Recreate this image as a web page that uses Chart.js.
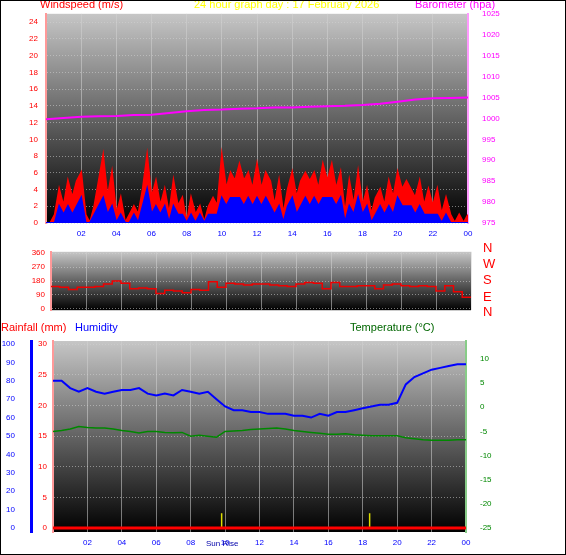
<!DOCTYPE html>
<html><head><meta charset="utf-8">
<script src="https://cdn.jsdelivr.net/npm/chart.js@4"></script>
<style>
body{margin:0;background:#fff;font-family:"Liberation Sans",Arial,sans-serif}
#page{position:relative;width:564px;height:553px;border:1px solid #000;overflow:hidden;background:#fff}
canvas{position:absolute;left:0}
.t{position:absolute;font-size:11px;white-space:nowrap;line-height:11px}
.d{position:absolute;left:482px;font-size:13px;color:#f00;line-height:13px}
</style></head><body>
<div id="page">
<canvas id="top" style="top:0" width="566" height="250"></canvas>
<canvas id="mid" style="top:240px" width="566" height="80"></canvas>
<canvas id="bot" style="top:320px" width="566" height="234"></canvas>
<div class="t" style="left:39px;top:-2px;color:#f00">Windspeed (m/s)</div>
<div class="t" style="left:193px;top:-2px;color:#ff0">24 hour graph day : 17 February 2026</div>
<div class="t" style="left:414px;top:-2px;color:#f0f">Barometer (hpa)</div>
<div class="t" style="left:0;top:321px;color:#f00">Rainfall (mm)</div>
<div class="t" style="left:74px;top:321px;color:#00f">Humidity</div>
<div class="t" style="left:349px;top:321px;color:#060">Temperature (°C)</div>
<div class="d" style="top:240px">N</div>
<div class="d" style="top:256px">W</div>
<div class="d" style="top:272px">S</div>
<div class="d" style="top:289px">E</div>
<div class="d" style="top:304px">N</div>
<div class="t" style="left:205px;top:537px;color:#00a;font-size:8px">Sun Rise</div>
</div>
<script>
/* ========= DATA ========= */
const hourLabels = ["02","04","06","08","10","12","14","16","18","20","22","00"];
const hourTicks  = [2,4,6,8,10,12,14,16,18,20,22,24];
// every 15 minutes, 0h..24h
const windGust = [0,0,1,4, 2,5,3,5, 6,1,0,2, 5,8,3,6, 1,3,0,1, 2,1,4,8, 3,5,2,4, 1,5,2,3,
  0,3,1,2, 0,2,3,2, 8,4,6,5, 7,5,6,4, 7,4,6,5, 2,5,1,4, 6,3,5,6, 5,6,4,7, 5,7,4,6,
  1,5,2,6, 2,4,1,3, 4,2,5,3, 6,4,5,4, 3,5,2,4, 2,4,1,3, 1,0,1,0, 1];
const windAvg = [0,0,0,2, 1,2,1,2, 3,0,0,1, 2,3,1,2, 0,1,0,0, 1,0,2,4, 1,2,1,2, 0,2,1,1,
  0,1,0,1, 0,1,1,1, 3,2,3,3, 3,2,3,2, 3,2,3,2, 1,2,0,2, 3,1,2,3, 2,3,2,3, 3,3,2,3,
  0,2,1,3, 1,2,0,1, 2,1,2,1, 3,2,2,2, 1,2,1,1, 1,1,0,1, 0,0,0,0, 0];
const windTicks = [0,2,4,6,8,10,12,14,16,18,20,22,24];
// hourly pressure
const baro = [999.8,1000.1,1000.4,1000.5,1000.6,1000.8,1000.9,1001.3,1001.7,1002.0,1002.1,1002.3,
  1002.4,1002.6,1002.6,1002.8,1002.9,1003.0,1003.2,1003.5,1004.0,1004.5,1004.8,1004.9,1005.0];
const baroTicks = [975,980,985,990,995,1000,1005,1010,1015,1020,1025];
// every 30 minutes
const windDir = [145,140,125,140,140,145,160,180,165,130,135,130,100,120,115,105,125,120,175,140,
  165,160,155,160,160,155,150,145,160,170,165,130,170,145,145,150,150,130,155,160,
  150,145,150,145,115,150,110,75,75];
const dirTicks = [0,90,180,270,360];
const humidity = [80,80,76,74,76,74,73,74,75,75,76,73,72,73,72,75,74,73,74,70,
  66,64,64,63,63,62,62,62,61,61,60,62,61,63,63,64,65,66,67,67,
  68,78,82,84,86,87,88,89,89];
const humTicks = [0,10,20,30,40,50,60,70,80,90,100];
const temperature = [-5,-4.8,-4.5,-4,-4.2,-4.3,-4.3,-4.5,-4.8,-5,-5.3,-5,-5,-5.2,-5.3,-5.2,-6,-5.8,-6,-6.2,
  -5,-4.9,-4.8,-4.6,-4.5,-4.4,-4.3,-4.5,-4.8,-5,-5.2,-5.4,-5.6,-5.6,-5.5,-5.7,-5.8,-5.9,-5.9,-5.9,
  -5.9,-6.3,-6.5,-6.7,-6.8,-6.8,-6.8,-6.7,-6.7];
const tempTicks = [-25,-20,-15,-10,-5,0,5,10];
const rainfall = [0, 0];
const rainTicks = [0,5,10,15,20,25,30];
const sunTimes = [9.8, 18.4];

/* ========= HELPERS ========= */
const pts = (arr, step) => arr.map((v,i) => ({x:i*step, y:v}));
const fixW = w => s => { s.width = w; };
const fixH = h => s => { s.height = h; };
const setTicks = list => s => { s.ticks = list.map(v => ({value:v})); };
const grid = {color:"rgba(210,210,210,.55)", borderDash:[1,2], drawTicks:false};
const small = c => ({color:c, font:{size:8, family:"Liberation Sans"}, callback:v=>String(v)});

const bgPlugin = {
  id:"bg",
  beforeDraw(chart){
    const {ctx, chartArea:a} = chart;
    const g = ctx.createLinearGradient(0,a.top,0,a.bottom);
    g.addColorStop(0,"#c6c6c6"); g.addColorStop(1,"#000");
    ctx.save(); ctx.fillStyle = g;
    ctx.fillRect(a.left,a.top,a.right-a.left,a.bottom-a.top); ctx.restore();
  }
};
Chart.defaults.animation = false;
Chart.defaults.plugins.legend.display = false;
Chart.defaults.plugins.tooltip.enabled = false;
Chart.defaults.elements.point.radius = 0;

function xAxis(h, show){
  return {type:"linear", min:0, max:24, afterFit:fixH(h),
    afterBuildTicks:setTicks(hourTicks),
    grid, border:{display:false},
    ticks:{display:show, ...small("#00f"), padding:6, maxRotation:0,
      callback:(v)=>hourLabels[hourTicks.indexOf(v)]}};
}

/* ========= TOP: wind + barometer ========= */
new Chart(document.getElementById("top"), {
  type:"line",
  data:{datasets:[
    {data:pts(windAvg,.25), yAxisID:"w", borderColor:"#00f", backgroundColor:"#00f", borderWidth:2, fill:"origin"},
    {data:pts(windGust,.25), yAxisID:"w", borderColor:"#f00", backgroundColor:"#f00", borderWidth:2, fill:"origin"},
    {data:pts(baro,1), yAxisID:"b", borderColor:"#f0f", borderWidth:2}
  ]},
  options:{responsive:false, layout:{padding:{top:12}},
    scales:{
      x:xAxis(28,true),
      w:{position:"left", min:0, max:25, afterFit:fixW(45), afterBuildTicks:setTicks(windTicks),
        ticks:{...small("#f00"), padding:8}, grid,
        border:{color:"#f99", width:2, dash:[1,2]}},
      b:{position:"right", min:975, max:1025, afterFit:fixW(99), afterBuildTicks:setTicks(baroTicks),
        ticks:{...small("#f0f"), padding:6}, grid:{display:false},
        border:{color:"#f9f", width:2, dash:[1,2]}}
    }},
  plugins:[bgPlugin]
});

/* ========= MIDDLE: wind direction ========= */
new Chart(document.getElementById("mid"), {
  type:"line",
  data:{datasets:[{data:pts(windDir,.5), yAxisID:"d", borderColor:"#e00", borderWidth:1.5, stepped:true}]},
  options:{responsive:false, layout:{padding:{top:5}},
    scales:{
      x:xAxis(7,false),
      d:{position:"left", min:-8, max:368, afterFit:fixW(50), afterBuildTicks:setTicks(dirTicks),
        ticks:{...small("#f00"), padding:6}, grid,
        border:{color:"#f99", width:2, dash:[1,2]}},
      r:{position:"right", afterFit:fixW(96), ticks:{display:false}, grid:{display:false}, border:{display:false}}
    }},
  plugins:[bgPlugin]
});

/* ========= BOTTOM: humidity, rain, temperature ========= */
new Chart(document.getElementById("bot"), {
  type:"line",
  data:{datasets:[
    {data:pts(humidity,.5), yAxisID:"h", borderColor:"#00f", borderWidth:2},
    {data:pts(temperature,.5), yAxisID:"t", borderColor:"#080", borderWidth:1.5},
    {data:pts(rainfall,24), yAxisID:"rn", borderColor:"#f00", borderWidth:3},
    ...sunTimes.map(t => ({data:[{x:t,y:0},{x:t,y:8}], yAxisID:"h", borderColor:"#dd0", borderWidth:1.5}))
  ]},
  options:{responsive:false, layout:{padding:{top:20}},
    scales:{
      x:xAxis(23,true),
      rn:{position:"left", min:-0.65, max:30.5, afterFit:fixW(22), afterBuildTicks:setTicks(rainTicks),
        ticks:{...small("#f00"), padding:6}, grid,
        border:{color:"#f99", width:2, dash:[1,2]}},
      h:{position:"left", min:-2.2, max:101.6, afterFit:fixW(30), afterBuildTicks:setTicks(humTicks),
        ticks:{...small("#00f"), padding:8}, grid:{display:false},
        border:{color:"#00f", width:3}},
      t:{position:"right", min:-25.8, max:13.7, afterFit:fixW(101), afterBuildTicks:setTicks(tempTicks),
        ticks:{...small("#080"), padding:6}, grid:{display:false},
        border:{color:"#8c8", width:2, dash:[1,2]}}
    }},
  plugins:[bgPlugin]
});
</script>
</body></html>
